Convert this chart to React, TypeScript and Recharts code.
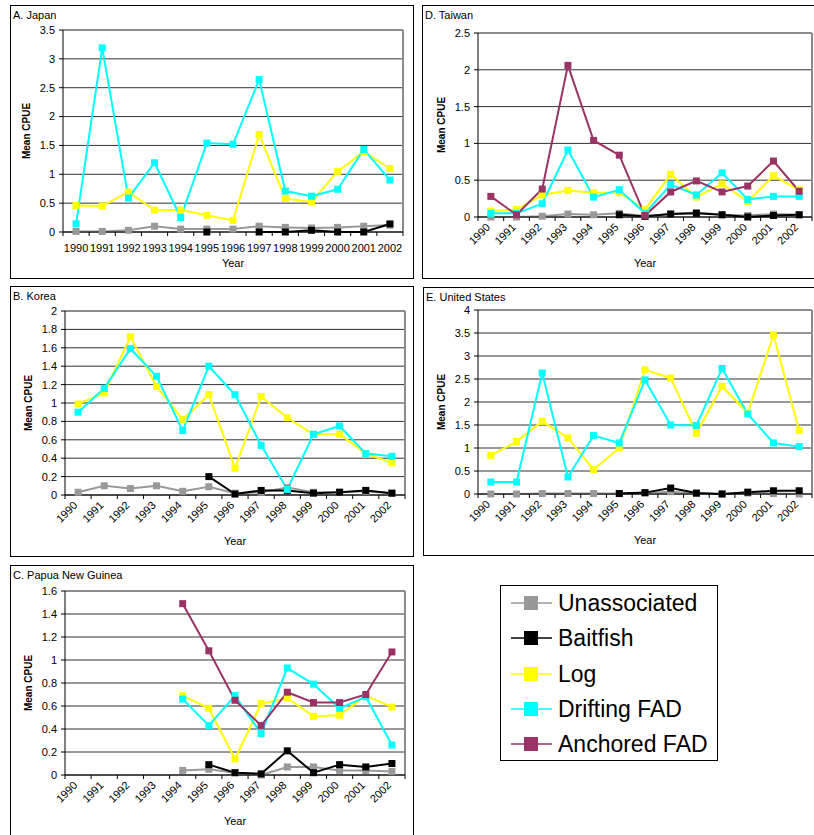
import React from 'react';
import { LineChart, Line, XAxis, YAxis, CartesianGrid, ReferenceLine } from 'recharts';

const years = [1990, 1991, 1992, 1993, 1994, 1995, 1996, 1997, 1998, 1999, 2000, 2001, 2002];
const seriesNames = ['Unassociated', 'Baitfish', 'Log', 'Drifting FAD', 'Anchored FAD'];
const seriesColors = ['#999999', '#000000', '#ffff00', '#00ffff', '#993366'];

// A. Japan
const jpUnassociated = [0.01, 0.01, 0.03, 0.1, 0.05, 0.05, 0.05, 0.1, 0.08, 0.07, 0.08, 0.1, 0.12];
const jpBaitfish = [null, null, null, null, null, 0, null, 0, 0, 0.03, 0, 0, 0.14];
const jpLog = [0.46, 0.45, 0.69, 0.38, 0.38, 0.29, 0.2, 1.69, 0.58, 0.52, 1.05, 1.39, 1.1];
const jpDrifting = [0.14, 3.19, 0.59, 1.2, 0.25, 1.54, 1.52, 2.64, 0.71, 0.62, 0.74, 1.43, 0.9];
const jpTicks = [0, 0.5, 1, 1.5, 2, 2.5, 3, 3.5];

// D. Taiwan
const twUnassociated = [0, 0, 0.01, 0.04, 0.03, 0.05, 0.01, 0.04, 0.06, 0.03, 0.02, 0.04, 0.03];
const twBaitfish = [null, null, null, null, null, 0.03, 0.01, 0.04, 0.05, 0.03, 0, 0.02, 0.03];
const twLog = [0.08, 0.1, 0.3, 0.36, 0.33, 0.33, 0.1, 0.58, 0.27, 0.45, 0.21, 0.56, 0.37];
const twDrifting = [0.05, 0.05, 0.18, 0.91, 0.27, 0.37, 0.05, 0.44, 0.3, 0.6, 0.24, 0.28, 0.28];
const twAnchored = [0.28, 0.03, 0.38, 2.06, 1.04, 0.84, 0.02, 0.34, 0.49, 0.34, 0.42, 0.76, 0.35];
const twTicks = [0, 0.5, 1, 1.5, 2, 2.5];

// B. Korea
const krUnassociated = [0.03, 0.1, 0.07, 0.1, 0.04, 0.09, 0.02, 0.03, 0.08, 0.03, 0.03, 0.04, 0.02];
const krBaitfish = [null, null, null, null, null, 0.2, 0.01, 0.05, 0.05, 0.02, 0.03, 0.05, 0.02];
const krLog = [0.99, 1.11, 1.72, 1.18, 0.82, 1.09, 0.29, 1.07, 0.84, 0.66, 0.66, 0.45, 0.35];
const krDrifting = [0.9, 1.16, 1.59, 1.29, 0.7, 1.4, 1.09, 0.54, 0.06, 0.66, 0.75, 0.45, 0.42];
const krTicks = [0, 0.2, 0.4, 0.6, 0.8, 1, 1.2, 1.4, 1.6, 1.8, 2];

// E. United States
const usUnassociated = [0, 0, 0.01, 0.01, 0.01, 0.01, 0.02, 0.05, 0.01, 0, 0.02, 0.01, 0];
const usBaitfish = [null, null, null, null, null, 0.01, 0.03, 0.13, 0.02, 0, 0.04, 0.07, 0.07];
const usLog = [0.84, 1.14, 1.58, 1.22, 0.53, 1.0, 2.7, 2.52, 1.32, 2.34, 1.76, 3.46, 1.38];
const usDrifting = [0.26, 0.26, 2.63, 0.37, 1.27, 1.11, 2.48, 1.5, 1.49, 2.73, 1.74, 1.11, 1.03];
const usTicks = [0, 0.5, 1, 1.5, 2, 2.5, 3, 3.5, 4];

// C. Papua New Guinea
const pgUnassociated = [null, null, null, null, 0.04, 0.05, 0.02, 0, 0.07, 0.07, 0.04, 0.04, 0.03];
const pgBaitfish = [null, null, null, null, null, 0.09, 0.02, 0.01, 0.21, 0.02, 0.09, 0.07, 0.1];
const pgLog = [null, null, null, null, 0.69, 0.58, 0.14, 0.62, 0.67, 0.51, 0.52, 0.69, 0.59];
const pgDrifting = [null, null, null, null, 0.66, 0.43, 0.69, 0.36, 0.93, 0.79, 0.58, 0.68, 0.26];
const pgAnchored = [null, null, null, null, 1.49, 1.08, 0.65, 0.43, 0.72, 0.63, 0.63, 0.7, 1.07];
const pgTicks = [0, 0.2, 0.4, 0.6, 0.8, 1, 1.2, 1.4, 1.6];

const font = '"Liberation Sans", Arial, sans-serif';
const yearBounds = years.map((y) => y - 0.5).concat([years[years.length - 1] + 0.5]);

type Series = (number | null)[] | undefined;
type Box = { l: number; t: number; r: number; b: number };
type Panel = {
  title: string;
  box: Box;
  plot: Box;
  ticks: number[];
  rotate: boolean;
  series: Series[];
};

const panels: Panel[] = [
  {
    title: 'A. Japan',
    box: { l: 10, t: 5, r: 414, b: 279 },
    plot: { l: 63, t: 30, r: 403, b: 232 },
    ticks: jpTicks,
    rotate: false,
    series: [jpUnassociated, jpBaitfish, jpLog, jpDrifting, undefined],
  },
  {
    title: 'D. Taiwan',
    box: { l: 422, t: 5, r: 822, b: 279 },
    plot: { l: 478, t: 33, r: 812, b: 217 },
    ticks: twTicks,
    rotate: true,
    series: [twUnassociated, twBaitfish, twLog, twDrifting, twAnchored],
  },
  {
    title: 'B. Korea',
    box: { l: 10, t: 286, r: 414, b: 557 },
    plot: { l: 65, t: 311, r: 405, b: 495 },
    ticks: krTicks,
    rotate: true,
    series: [krUnassociated, krBaitfish, krLog, krDrifting, undefined],
  },
  {
    title: 'E. United States',
    box: { l: 423, t: 287, r: 822, b: 556 },
    plot: { l: 478, t: 310, r: 812, b: 494 },
    ticks: usTicks,
    rotate: true,
    series: [usUnassociated, usBaitfish, usLog, usDrifting, undefined],
  },
  {
    title: 'C. Papua New Guinea',
    box: { l: 10, t: 565, r: 414, b: 842 },
    plot: { l: 65, t: 591, r: 405, b: 775 },
    ticks: pgTicks,
    rotate: true,
    series: [pgUnassociated, pgBaitfish, pgLog, pgDrifting, pgAnchored],
  },
];

const squareDot = (color: string) => (props: any) => {
  const { cx, cy, index, value } = props;
  if (value == null || cy == null || Number.isNaN(cy)) return <g key={`d${index}`} />;
  return <rect key={`d${index}`} x={cx - 3.5} y={cy - 3.5} width={7} height={7} fill={color} />;
};

const YearTick = (props: any) => {
  const { x, y, payload, half, rotate } = props;
  if (payload.value > years[years.length - 1]) return <g />;
  const year = payload.value + 0.5;
  const cx = x + half;
  if (!rotate) {
    return (
      <text x={cx} y={y + 16} textAnchor="middle" fontSize={11} fontFamily={font} fill="#000">
        {year}
      </text>
    );
  }
  const py = y + 7;
  return (
    <text x={cx} y={py} textAnchor="end" transform={`rotate(-45 ${cx} ${py})`} fontSize={11} fontFamily={font} fill="#000">
      {year}
    </text>
  );
};

const PanelChart = ({ p }: { p: Panel }) => {
  const yW = 50;
  const xH = 40;
  const w = p.box.r - p.box.l;
  const h = p.box.b - p.box.t;
  const margin = {
    left: p.plot.l - p.box.l - yW,
    top: p.plot.t - p.box.t,
    right: p.box.r - p.plot.r,
    bottom: p.box.b - p.plot.b - xH,
  };
  const half = (p.plot.r - p.plot.l) / years.length / 2;
  const yMax = p.ticks[p.ticks.length - 1];
  const data = years.map((year, i) => {
    const row: any = { year };
    p.series.forEach((s, k) => {
      if (s) row[`s${k}`] = s[i] ?? null;
    });
    return row;
  });
  const plotMidY = (p.plot.t + p.plot.b) / 2;
  const plotMidX = (p.plot.l + p.plot.r) / 2;

  return (
    <>
      <div
        style={{
          position: 'absolute',
          left: p.box.l,
          top: p.box.t,
          width: w - 2,
          height: h - 2,
          border: '1px solid #000',
        }}
      />
      <div style={{ position: 'absolute', left: p.box.l + 3, top: p.box.t + 4, fontSize: 11, lineHeight: '12px', fontFamily: font }}>
        {p.title}
      </div>
      <div
        style={{
          position: 'absolute',
          left: p.plot.l - 36 - 40,
          top: plotMidY - 6,
          width: 80,
          textAlign: 'center',
          fontSize: 10,
          lineHeight: '12px',
          fontWeight: 'bold',
          fontFamily: font,
          transform: 'rotate(-90deg)',
        }}
      >
        Mean CPUE
      </div>
      <div
        style={{
          position: 'absolute',
          left: plotMidX - 40,
          top: p.plot.b + (p.rotate ? 40 : 25),
          width: 80,
          textAlign: 'center',
          fontSize: 11,
          lineHeight: '12px',
          fontFamily: font,
        }}
      >
        Year
      </div>
      <div style={{ position: 'absolute', left: p.box.l, top: p.box.t }}>
        <LineChart width={w} height={h} data={data} margin={margin}>
          <CartesianGrid vertical={false} stroke="#333" strokeWidth={1} />
          <ReferenceLine y={yMax} stroke="#8c8c8c" strokeWidth={2} />
          <ReferenceLine x={yearBounds[yearBounds.length - 1]} stroke="#8c8c8c" strokeWidth={2} />
          <XAxis
            type="number"
            dataKey="year"
            domain={[yearBounds[0], yearBounds[yearBounds.length - 1]]}
            ticks={yearBounds}
            interval={0}
            allowDataOverflow
            height={xH}
            tickSize={4}
            tickMargin={0}
            stroke="#000"
            tick={<YearTick half={half} rotate={p.rotate} />}
          />
          <YAxis
            type="number"
            domain={[0, yMax]}
            ticks={p.ticks}
            interval={0}
            width={yW}
            tickSize={4}
            tickMargin={4}
            stroke="#000"
            tick={{ fontSize: 11, fill: '#000', fontFamily: font }}
          />
          {p.series.map((s, k) =>
            s ? (
              <Line
                key={k}
                dataKey={`s${k}`}
                stroke={seriesColors[k]}
                strokeWidth={2}
                dot={squareDot(seriesColors[k])}
                activeDot={false}
                connectNulls={false}
                isAnimationActive={false}
              />
            ) : null
          )}
        </LineChart>
      </div>
    </>
  );
};

const LegendBox = () => (
  <div
    style={{
      position: 'absolute',
      left: 500,
      top: 585,
      width: 216,
      height: 174,
      border: '1px solid #000',
      fontFamily: font,
    }}
  >
    {seriesNames.map((name, i) => (
      <div key={name} style={{ position: 'absolute', left: 0, top: 17 + i * 35.3 - 14, height: 28, width: 216 }}>
        <svg width={56} height={28} style={{ position: 'absolute', left: 0, top: 0 }}>
          <line x1={10} x2={51} y1={14} y2={14} stroke={seriesColors[i]} strokeWidth={1.5} />
          <rect x={23} y={7} width={14} height={14} fill={seriesColors[i]} />
        </svg>
        <span style={{ position: 'absolute', left: 57, top: 0, fontSize: 23, lineHeight: '28px', whiteSpace: 'nowrap' }}>
          {name}
        </span>
      </div>
    ))}
  </div>
);

export default function App() {
  return (
    <div style={{ position: 'absolute', left: 0, top: 0, width: 814, height: 835, overflow: 'hidden', background: '#fff' }}>
      {panels.map((p) => (
        <PanelChart key={p.title} p={p} />
      ))}
      <LegendBox />
    </div>
  );
}
